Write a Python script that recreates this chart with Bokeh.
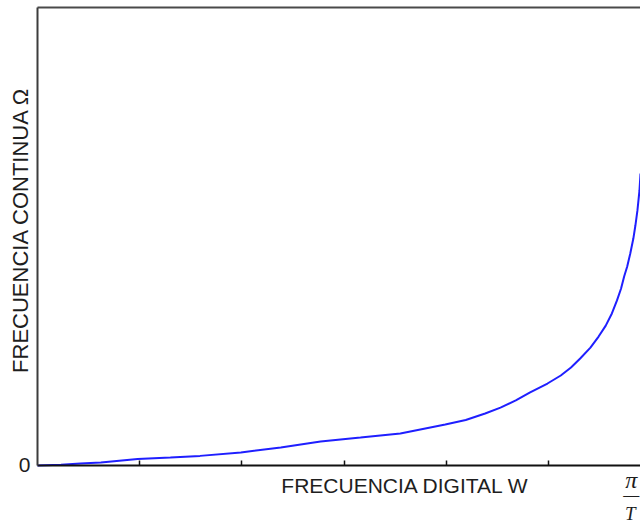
import math

from bokeh.embed import file_html
from bokeh.models import FixedTicker, Label, LinearAxis, Range1d
from bokeh.plotting import figure
from bokeh.resources import INLINE

# Digital frequency w (in steps of pi/(6T)) against continuous frequency Omega
w_digital = [0.0, 0.23, 0.42, 0.62, 0.98, 1.30, 1.59, 1.99, 2.38, 2.77, 3.16,
             3.55, 3.99, 4.19, 4.38, 4.53, 4.68, 4.82, 4.99, 5.12, 5.22, 5.31,
             5.41, 5.49, 5.56, 5.62, 5.67, 5.71, 5.74, 5.77, 5.80, 5.83, 5.85,
             5.87, 5.89, 5.90]
omega_cont = [0.0, 0.03, 0.09, 0.13, 0.28, 0.35, 0.42, 0.57, 0.79, 1.05, 1.22,
              1.40, 1.79, 1.99, 2.27, 2.53, 2.84, 3.19, 3.58, 3.93, 4.28, 4.67,
              5.15, 5.63, 6.11, 6.64, 7.21, 7.73, 8.25, 8.69, 9.26, 9.91, 10.48,
              11.14, 12.01, 12.75]

x_ticks = [1, 2, 3, 4, 5]
y_ticks = [0]
x_title = "FRECUENCIA DIGITAL W"
y_title = "FRECUENCIA CONTINUA Ω"
end_num, end_den = "π", "T"

W_MAX = 5.90      # right end of the visible frequency axis
OMEGA_MAX = 20.0  # top of the drawing area

FONT = "Liberation Sans"
TEXT = "#1e1e1e"

# The frame fills the whole canvas; the axes are pinned inside it
p = figure(width=640, height=523, output_backend="svg", toolbar_location=None,
           x_range=Range1d(-0.362, W_MAX), y_range=Range1d(-2.533, 20.306),
           min_border=0, x_axis_location=None, y_axis_location=None)
p.outline_line_color = None
p.background_fill_color = "white"
p.border_fill_color = "white"
p.xgrid.visible = False
p.ygrid.visible = False

# bottom axis: short inward ticks, no tick labels
xax = LinearAxis(ticker=FixedTicker(ticks=x_ticks), fixed_location=0,
                 bounds=(0, W_MAX), axis_line_color="#111111",
                 axis_line_width=2, major_tick_in=5, major_tick_out=0,
                 major_tick_line_color="#111111", major_tick_line_width=1.5,
                 minor_tick_in=0, minor_tick_out=0,
                 major_label_overrides={t: "" for t in x_ticks})
p.add_layout(xax, "below")

# left axis: frame line with the single "0" label
yax = LinearAxis(ticker=FixedTicker(ticks=y_ticks), fixed_location=0,
                 bounds=(0, OMEGA_MAX), axis_line_color="#3c3c3c",
                 axis_line_width=2, major_tick_in=0, major_tick_out=0,
                 minor_tick_in=0, minor_tick_out=0,
                 major_label_standoff=7,
                 major_label_text_font=FONT,
                 major_label_text_font_size="21px",
                 major_label_text_color=TEXT)
p.add_layout(yax, "left")

# top frame line
tax = LinearAxis(ticker=FixedTicker(ticks=[]), fixed_location=OMEGA_MAX,
                 bounds=(0, W_MAX), axis_line_color="#4a4a4a",
                 axis_line_width=2, major_tick_in=0, major_tick_out=0,
                 minor_tick_in=0, minor_tick_out=0)
p.add_layout(tax, "above")

p.line(w_digital, omega_cont, line_color="#1f1fff", line_width=2)

# axis titles
p.add_layout(Label(x=3.6, y=-0.39, text=x_title,
                   text_align="center", text_baseline="top",
                   text_font=FONT, text_font_size="21px", text_color=TEXT))
p.add_layout(Label(x=-0.166, y=10.3, text=y_title, angle=math.pi / 2,
                   text_align="center", text_baseline="middle",
                   text_font=FONT, text_font_size="22px", text_color=TEXT))

# pi / T mark at the right end of the frequency axis
p.add_layout(Label(x=5.81, y=-0.655, text=end_num,
                   text_align="center", text_baseline="alphabetic",
                   text_font="Liberation Serif", text_font_style="italic",
                   text_font_size="24px", text_color=TEXT))
p.add_layout(Label(x=5.81, y=-1.27, text="―",
                   text_align="center", text_baseline="middle",
                   text_font="Liberation Serif",
                   text_font_size="16px", text_color=TEXT))
p.add_layout(Label(x=5.80, y=-2.10, text=end_den,
                   text_align="center", text_baseline="alphabetic",
                   text_font="Liberation Serif", text_font_style="italic",
                   text_font_size="19px", text_color=TEXT))

open("out.html", "w").write(file_html(p, INLINE))
